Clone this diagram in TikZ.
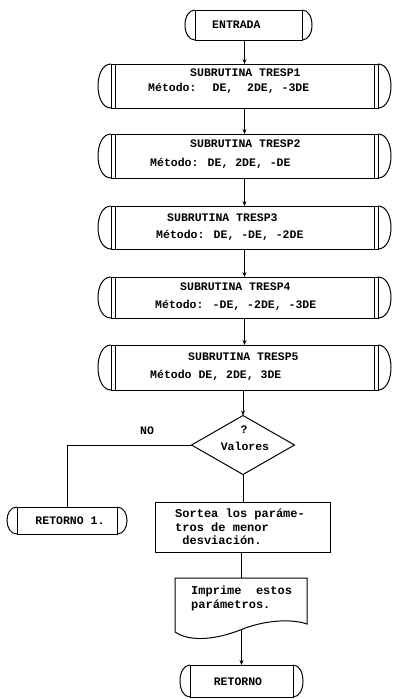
\documentclass[tikz,border=0pt]{standalone}
\usepackage{fontspec}
\setmainfont{Liberation Mono}
\usetikzlibrary{shapes.geometric,arrows.meta}
\tikzset{
  box/.style={draw, line width=1pt, rectangle, inner sep=0pt, outer sep=0pt},
  hidden/.style={rectangle, inner sep=0pt, outer sep=0pt},
  txt/.style={font=\fontsize{11.5}{13}\selectfont\bfseries, inner sep=0pt, anchor=west},
  bigtxt/.style={font=\fontsize{12}{13.5}\selectfont\bfseries, inner sep=0pt, anchor=north west, align=left},
  arr/.style={line width=1pt, -{Stealth[length=5pt,width=4pt]}},
  con/.style={line width=1pt},
  decision/.style={draw, line width=1pt, diamond, inner sep=0pt, outer sep=0pt, minimum width=103pt, minimum height=59pt},
}
\newcommand{\mybulges}[2]{%
  \draw[line width=1pt] (#1.north west) .. controls +({-4/3*#2},0) and +({-4/3*#2},0) .. (#1.south west);
  \draw[line width=1pt] (#1.north east) .. controls +({4/3*#2},0) and +({4/3*#2},0) .. (#1.south east);
}
\newcommand{\mydbl}[1]{%
  \draw[line width=1pt] ([xshift=4pt]#1.north west) -- ([xshift=4pt]#1.south west);
  \draw[line width=1pt] ([xshift=-4pt]#1.north east) -- ([xshift=-4pt]#1.south east);
}
\begin{document}
\begin{tikzpicture}[x=1pt,y=-1pt]
\useasboundingbox[fill=white] (0,0) rectangle (393,699);

% ENTRADA
\node[box, minimum width=107pt, minimum height=30pt] (entrada) at (248.5,25) {};
\mybulges{entrada}{10}
\node[txt] (entradaT) at (212,25) {ENTRADA};

% subroutines
\node[box, minimum width=267pt, minimum height=44pt] (t1) at (244.5,86) {};
\mybulges{t1}{13}\mydbl{t1}
\node[txt] (t1a) at (190,73) {SUBRUTINA TRESP1};
\node[txt] (t1b) at (148,88) {Método:~ DE,~ 2DE, -3DE};

\node[box, minimum width=267pt, minimum height=44pt] (t2) at (244.5,156) {};
\mybulges{t2}{13}\mydbl{t2}
\node[txt] (t2a) at (190,144) {SUBRUTINA TRESP2};
\node[txt] (t2b) at (150,163) {Método: DE, 2DE, -DE};

\node[box, minimum width=267pt, minimum height=43pt] (t3) at (244.5,227.5) {};
\mybulges{t3}{13}\mydbl{t3}
\node[txt] (t3a) at (167,218) {SUBRUTINA TRESP3};
\node[txt] (t3b) at (156,235) {Método: DE, -DE, -2DE};

\node[box, minimum width=267pt, minimum height=41pt] (t4) at (244.5,297.5) {};
\mybulges{t4}{13}\mydbl{t4}
\node[txt] (t4a) at (180,287) {SUBRUTINA TRESP4};
\node[txt] (t4b) at (155,305) {Método: -DE, -2DE, -3DE};

\node[box, minimum width=267pt, minimum height=45pt] (t5) at (244.5,367.5) {};
\mybulges{t5}{13}\mydbl{t5}
\node[txt] (t5a) at (188,357) {SUBRUTINA TRESP5};
\node[txt] (t5b) at (150,375) {Método DE, 2DE, 3DE};

% decision
\node[decision] (dia) at (243,445) {};
\node[txt, anchor=center] (diaQ) at (244,430) {?};
\node[txt, anchor=center] (diaV) at (245,446) {Valores};
\node[txt, anchor=center] (no) at (147,431) {NO};

% RETORNO 1
\node[box, minimum width=100pt, minimum height=27pt] (ret1) at (67,520.5) {};
\mybulges{ret1}{10}
\node[txt, anchor=center] (ret1T) at (70,521) {RETORNO 1.};

% Sortea
\node[box, minimum width=175pt, minimum height=50pt] (sortea) at (242.5,527) {};
\node[bigtxt] (sorteaT) at (175,509) {Sortea los paráme-\\tros de menor\\~desviación.};

% Document
\node[hidden, minimum width=132pt, minimum height=46pt] (doc) at (241,601) {};
\coordinate (docb) at (241.5,629.5);
\draw[line width=1pt] (doc.north west) -- (doc.north east) -- (307,624)
  .. controls (290,618) and (262,621) .. (docb)
  .. controls (215,640) and (190,642) .. (175,632) -- cycle;
\node[bigtxt] (docT) at (191,586) {Imprime~ estos\\parámetros.};

% RETORNO
\node[box, minimum width=103pt, minimum height=32pt] (ret) at (241.5,681) {};
\mybulges{ret}{10}
\node[txt, anchor=center] (retT) at (238,682) {RETORNO};

% connectors
\draw[arr] (t1.north |- entrada.south) -- (t1.north);
\draw[arr] (t1.south) -- (t2.north);
\draw[arr] (t2.south) -- (t3.north);
\draw[arr] (t3.south) -- (t4.north);
\draw[arr] (t4.south) -- (t5.north);
\draw[arr] (dia.north |- t5.south) -- (dia.north);
\draw[con] (dia.west) -| (ret1.north);
\draw[con] (dia.south) -- (dia.south |- sortea.north);
\draw[con] (doc.north |- sortea.south) -- (doc.north);
\draw[arr] (docb) -- (ret.north);
\end{tikzpicture}
\end{document}
